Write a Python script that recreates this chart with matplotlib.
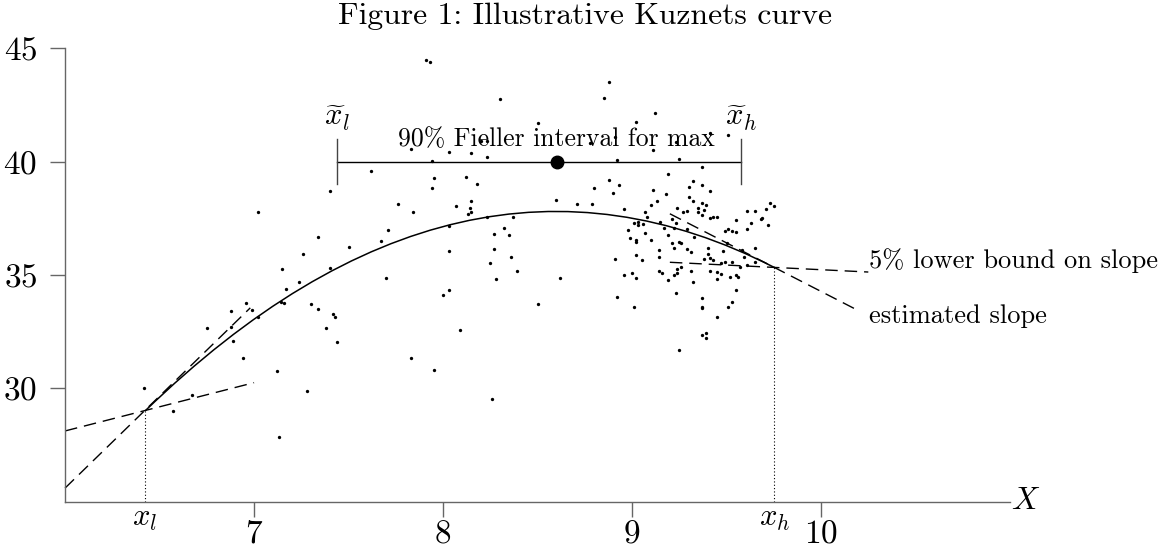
import numpy as np
import matplotlib
matplotlib.use('Agg')
import matplotlib.pyplot as plt
from matplotlib.path import Path
from matplotlib.patches import PathPatch

plt.rcParams['font.family'] = 'cmr10'
plt.rcParams['mathtext.fontset'] = 'cm'
plt.rcParams['axes.formatter.use_mathtext'] = True

left_x = [6.42, 6.57, 6.67, 6.75, 6.88, 6.96, 6.88, 6.89, 6.94, 6.99, 7.02, 7.12, 7.13, 7.14, 7.16, 7.15, 7.17, 7.24,
          7.26, 7.28, 7.30, 7.34, 7.38, 7.40, 7.42, 7.43, 7.44, 7.70, 7.02, 7.34, 7.40, 7.50, 7.62, 7.67, 7.71, 7.76]
left_y = [30.00, 29.00, 29.72, 32.68, 33.41, 33.78, 32.72, 32.10, 31.32, 33.46, 33.15, 30.78, 27.87, 33.82, 33.75,
          35.28, 34.40, 34.69, 35.94, 29.90, 33.73, 33.51, 32.68, 35.32, 33.29, 33.16, 32.05, 34.88, 37.79, 36.69,
          38.72, 36.24, 39.60, 36.51, 36.98, 38.15]
mid_x = [7.94, 7.95, 7.94, 8.12, 8.18, 7.84, 8.07, 8.15, 8.14, 8.15, 8.13, 8.03, 8.03, 8.00, 8.03, 8.09, 7.83, 7.95,
         8.26, 8.23, 8.37, 8.27, 8.32, 8.35, 8.27, 8.25, 8.36, 8.28, 8.39, 8.50, 8.62, 8.60, 8.71, 8.79, 8.80, 8.88,
         8.90, 8.93, 8.91, 8.92, 7.91, 7.93, 8.30, 8.88, 8.85, 9.12, 8.50, 9.02, 8.20, 8.23, 8.15, 8.23, 8.03, 7.83,
         8.78, 8.91, 9.11, 9.23, 9.41, 9.51, 8.92, 9.25, 9.37]
mid_y = [40.03, 39.29, 38.84, 39.34, 39.01, 37.76, 38.06, 38.26, 37.96, 37.77, 37.69, 37.17, 36.07, 34.13, 34.34,
         32.57, 31.35, 30.81, 29.53, 37.57, 37.57, 36.82, 37.07, 36.76, 36.15, 35.53, 35.80, 34.82, 35.18, 33.72,
         34.88, 38.31, 38.11, 38.15, 38.84, 39.19, 38.63, 38.98, 35.71, 34.04, 44.48, 44.41, 42.76, 43.53, 42.81,
         42.16, 41.72, 41.76, 40.91, 40.91, 40.39, 40.22, 40.43, 40.56, 40.81, 41.10, 40.51, 40.88, 41.25, 41.18,
         40.07, 40.12, 39.78]
up_x = [9.19, 9.32, 9.11, 9.30, 9.37, 9.18, 9.30, 9.32, 9.13, 9.10, 9.37, 9.39, 8.96, 9.07, 9.24, 9.27, 9.29, 9.35,
        9.35, 9.37, 9.38, 9.08, 9.01, 9.03, 9.03, 9.06, 9.15, 9.21, 9.23, 9.17, 8.98, 9.07, 9.22, 9.29, 9.19, 8.99,
        9.02, 9.02, 9.10, 9.21, 9.25, 9.26, 9.33, 9.22, 9.14, 9.29, 9.31, 9.40, 9.41, 9.41, 9.43, 9.45, 9.55, 9.61,
        9.65, 9.63, 9.68, 9.69, 9.73, 9.75, 9.71, 9.72, 9.61, 9.55, 9.49, 9.51, 9.53, 9.50, 9.48, 9.58, 9.65, 9.59]
up_y = [39.46, 39.16, 38.75, 38.90, 38.95, 38.57, 38.45, 38.28, 38.28, 38.10, 38.16, 38.09, 37.91, 37.78, 37.97,
        37.78, 37.84, 37.94, 37.78, 37.65, 37.87, 37.57, 37.28, 37.35, 37.21, 37.24, 37.32, 37.48, 37.28, 37.09,
        36.98, 36.84, 37.06, 37.02, 36.76, 36.65, 36.54, 36.44, 36.54, 36.42, 36.47, 36.40, 36.69, 36.18, 36.08,
        36.13, 36.03, 36.18, 38.72, 37.50, 37.55, 37.57, 37.43, 37.82, 37.82, 37.31, 37.46, 37.53, 38.19, 38.06,
        37.90, 37.21, 37.02, 36.91, 36.95, 37.01, 36.95, 36.42, 36.06, 36.10, 36.20, 35.81]
low_x = [9.02, 9.05, 8.96, 9.00, 9.02, 9.01, 9.14, 9.14, 9.16, 9.19, 9.22, 9.24, 9.24, 9.26, 9.23, 9.25, 9.31, 9.32,
         9.37, 9.37, 9.37, 9.37, 9.39, 9.39, 9.38, 9.41, 9.43, 9.49, 9.47, 9.41, 9.45, 9.47, 9.45, 9.53, 9.52, 9.55,
         9.56, 9.57, 9.55, 9.53, 9.51, 9.45, 9.61, 9.65, 9.40]
low_y = [35.90, 35.66, 35.01, 35.07, 34.87, 33.60, 35.81, 35.19, 35.10, 34.79, 35.01, 35.28, 35.10, 35.37, 34.22,
         31.70, 35.19, 34.69, 33.99, 33.60, 33.53, 32.35, 32.45, 32.21, 35.71, 35.74, 35.67, 35.59, 35.54, 35.19,
         35.12, 35.04, 34.84, 35.57, 34.93, 35.01, 34.91, 35.33, 34.34, 33.82, 33.60, 33.16, 35.45, 35.59, 35.93]

# fitted curve as quadratic bezier: start, control, end
curve_x = [6.423, 8.088, 9.753]
curve_y = [29.0, 42.47, 35.33]

# tangent (estimated) and lower-bound slope segments
est_l_x, est_l_y = [6.0, 6.98], [25.6, 33.55]
lb_l_x, lb_l_y = [6.0, 7.0], [28.12, 30.25]
est_h_x, est_h_y = [9.2, 10.19], [37.7, 33.46]
lb_h_x, lb_h_y = [9.2, 10.25], [35.56, 35.13]

# Fieller interval
fl_lo, fl_hi, fl_mid, fl_y = 7.44, 9.577, 8.603, 40.0

gray = '#666666'
fig = plt.figure(figsize=(11.7, 5.53), dpi=100)
ax = fig.add_axes([0.0556, 0.0928, 0.8077, 0.8199])

xs = left_x + mid_x + up_x + low_x
ys = left_y + mid_y + up_y + low_y
ax.plot(xs, ys, 'o', color='k', ms=2.4, mec='none')

path = Path(list(zip(curve_x, curve_y)), [Path.MOVETO, Path.CURVE3, Path.CURVE3])
ax.add_patch(PathPatch(path, fill=False, ec='k', lw=1.1))

for sx, sy in [(est_l_x, est_l_y), (lb_l_x, lb_l_y), (est_h_x, est_h_y), (lb_h_x, lb_h_y)]:
    ax.plot(sx, sy, color='k', lw=1.0, dashes=(9, 5), clip_on=False)

ax.plot([curve_x[0], curve_x[0]], [25, curve_y[0]], color='k', lw=0.8, ls=(0, (1, 2)))
ax.plot([curve_x[2], curve_x[2]], [25, curve_y[2]], color='k', lw=0.8, ls=(0, (1, 2)))

ax.plot([fl_lo, fl_hi], [fl_y, fl_y], color='k', lw=1.0)
ax.plot([fl_lo, fl_lo], [fl_y - 1, fl_y + 1], color='#444444', lw=1.0)
ax.plot([fl_hi, fl_hi], [fl_y - 1, fl_y + 1], color='#444444', lw=1.0)
ax.plot([fl_mid], [fl_y], 'o', color='k', ms=9)

ax.text(fl_lo, 41.9, r'$\widetilde{x}_l$', fontsize=22, ha='center', va='center')
ax.text(fl_hi, 41.9, r'$\widetilde{x}_h$', fontsize=22, ha='center', va='center')
ax.text(8.6, 40.7, '90% Fieller interval for max', fontsize=18.5, ha='center', va='baseline')
ax.text(10.254, 35.3, '5% lower bound on slope', fontsize=19, ha='left', va='baseline')
ax.text(10.254, 32.9, 'estimated slope', fontsize=19, ha='left', va='baseline')

ax.annotate(r'$x_l$', (curve_x[0], 25), xytext=(0, -3), textcoords='offset points',
            fontsize=22, ha='center', va='top', annotation_clip=False)
ax.annotate(r'$x_h$', (curve_x[2], 25), xytext=(0, -3), textcoords='offset points',
            fontsize=22, ha='center', va='top', annotation_clip=False)
ax.annotate(r'$X$', (11, 25), xytext=(1, 0), textcoords='offset points',
            fontsize=23, ha='left', va='center', annotation_clip=False)

ax.set_xlim(6, 11)
ax.set_ylim(25, 45)
ax.set_xticks([7, 8, 9, 10])
ax.set_yticks([30, 35, 40, 45])
for s in ['top', 'right']:
    ax.spines[s].set_visible(False)
for s in ['left', 'bottom']:
    ax.spines[s].set_color(gray)
    ax.spines[s].set_linewidth(1.0)
ax.tick_params(axis='both', direction='out', length=11, width=1.0, color=gray, labelsize=24)
ax.tick_params(axis='x', pad=2)
ax.tick_params(axis='y', pad=9)

fig.text(0.5, 1 - 16 / 553, 'Figure 1: Illustrative Kuznets curve', fontsize=22.8, ha='center', va='center')

fig.savefig('out.png', dpi=100)
